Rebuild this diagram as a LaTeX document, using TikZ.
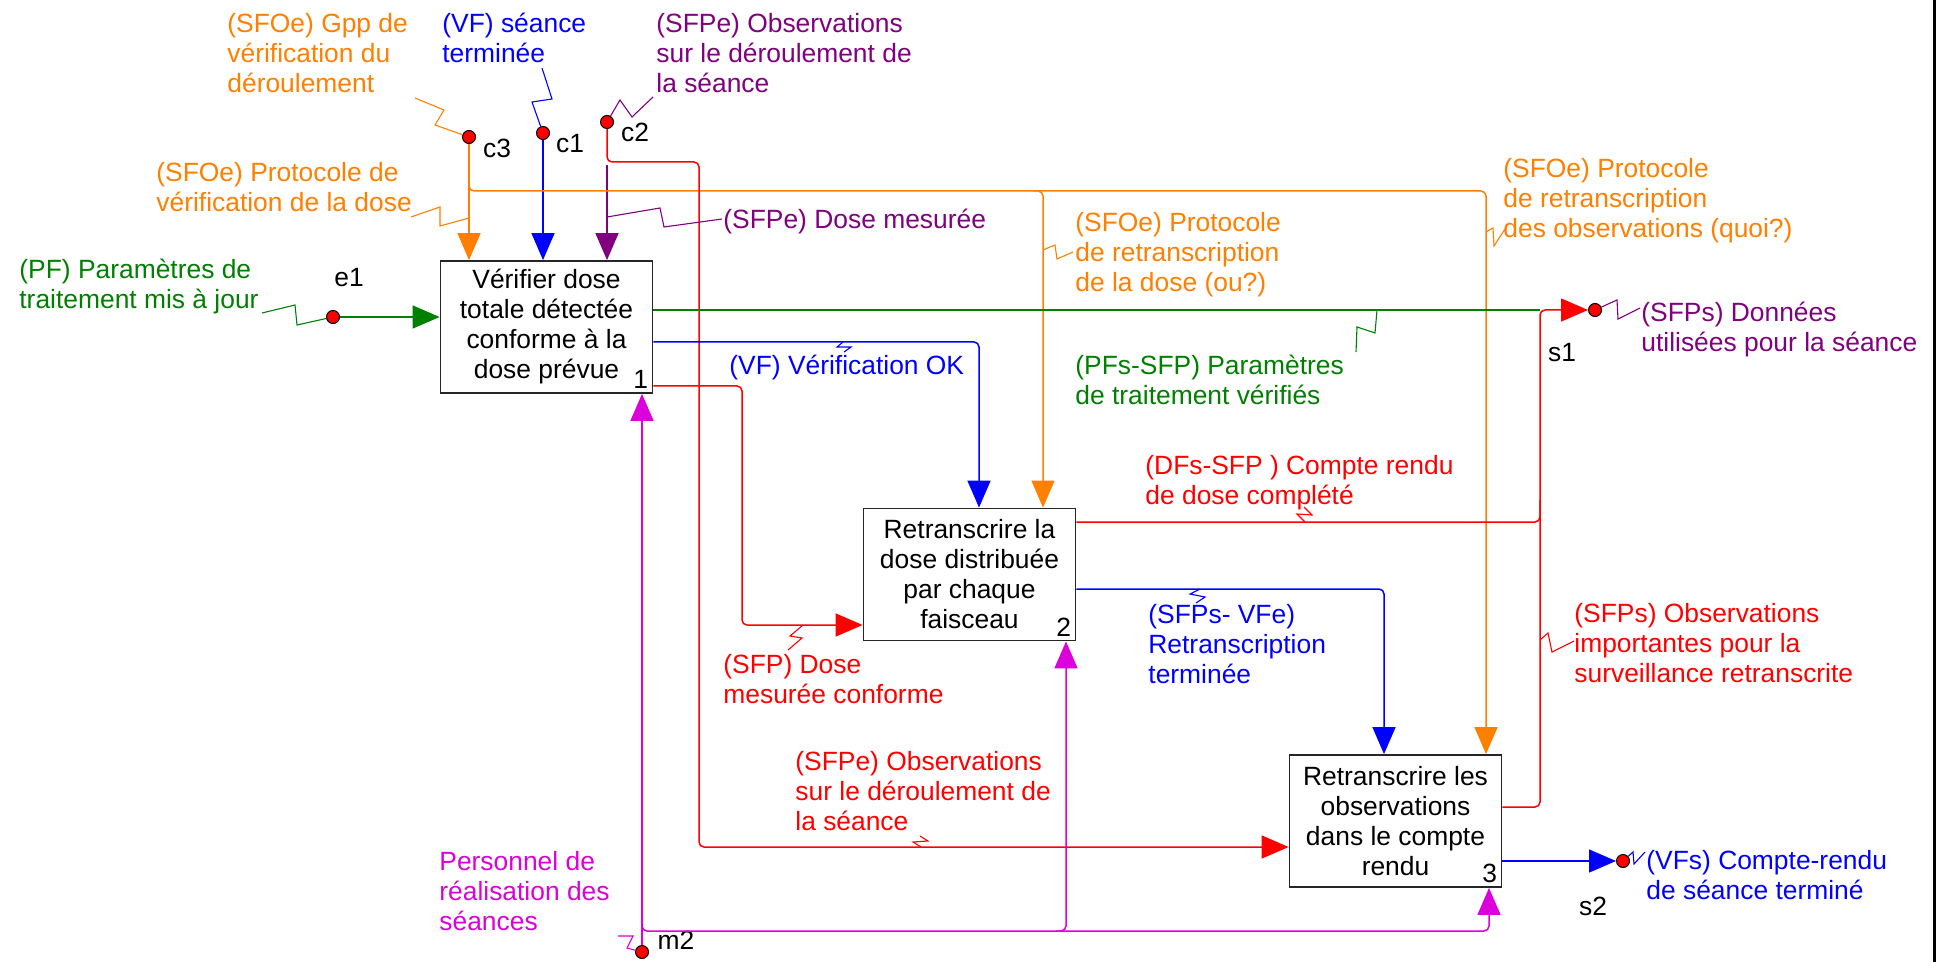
\documentclass[tikz,border=0pt]{standalone}
\usepackage{fontspec}
\setmainfont{Liberation Sans}
\usetikzlibrary{arrows.meta}
\definecolor{idorange}{RGB}{255,128,0}
\definecolor{idblue}{RGB}{0,0,255}
\definecolor{idpurple}{RGB}{128,0,128}
\definecolor{idgreen}{RGB}{0,128,0}
\definecolor{idred}{RGB}{255,0,0}
\definecolor{idmag}{RGB}{220,0,220}
\begin{document}
\begin{tikzpicture}[x=0.5pt, y=-0.5pt,
    every node/.style={font=\fontsize{13.2}{15}\selectfont},
    activity/.style={draw=black!85, line width=0.9pt, minimum width=106pt,
      minimum height=66pt, align=center, inner sep=0pt},
    port/.style={circle, fill=red, draw=black, line width=0.5pt, inner sep=0pt, minimum size=6.5pt},
    lbl/.style={anchor=north west, inner sep=0pt, align=left},
    flow/.style={line width=0.75pt, rounded corners=2.5pt},
    arr/.style={flow, -{Triangle[length=13.5pt, width=11.5pt]}},
    squig/.style={line width=0.55pt}]
  \fill[white] (0,0) rectangle (1937,962);
  \useasboundingbox (0,0) rectangle (1937,962);
  \draw[line width=1.25pt] (1934.5,0) -- (1934.5,962);
  % Activities
  \node[activity] (B1) at (546.5,327) {Vérifier dose\\totale détectée\\conforme à la\\dose prévue};
  \node[activity] (B2) at (969.5,574.5) {Retranscrire la\\dose distribuée\\par chaque\\faisceau};
  \node[activity] (B3) at (1395.5,821) {Retranscrire les\\observations\\dans le compte\\rendu};
  \node[anchor=south east, inner sep=0pt] (n1) at ([shift={(-5,-5)}]B1.south east) {1};
  \node[anchor=south east, inner sep=0pt] (n2) at ([shift={(-5,-5)}]B2.south east) {2};
  \node[anchor=south east, inner sep=0pt] (n3) at ([shift={(-5,-5)}]B3.south east) {3};
  % Boundary ports
  \node[port] (e1) at (333,317) {};
  \node[port] (c3) at (469,137) {};
  \node[port] (c1) at (543,133) {};
  \node[port] (c2) at (607,122) {};
  \node[port] (s1) at (1595,310) {};
  \node[port] (s2) at (1623,861) {};
  \node[port] (m2) at (642,952) {};
  \node at (349,278) {e1};
  \node at (497,148) {c3};
  \node at (570,144) {c1};
  \node at (635,132) {c2};
  \node at (1562,353) {s1};
  \node at (1593,906) {s2};
  \node at (676,940) {m2};
  % Bend points
  \coordinate (jo) at (1043,191);
  \coordinate (ko) at (1486,191);
  \coordinate (jr) at (1540,310);
  % Controls
  \draw[arr, idorange] (c3) -- (c3 |- B1.north);
  \draw[arr, idblue] (c1) -- (c1 |- B1.north);
  \draw[arr, idpurple] (c2 |- 0,165) -- (c2 |- B1.north);
  \draw[arr, idorange] (c3 |- 0,178) |- (ko) -- (ko |- B3.north);
  \draw[arr, idorange] (1033,191) -| (jo |- B2.north);
  \draw[arr, idred] (c2) |- (699,162) |- (B3.west |- 0,847);
  % Inputs and outputs
  \draw[arr, idgreen] (e1) -- (e1 -| B1.west);
  \draw[flow, idgreen] (B1.east |- 0,310) -- (jr);
  \draw[arr, idblue] (B1.east |- 0,342) -| (B2.north -| 979,0);
  \draw[arr, idred] (B1.east |- 0,386) -| (742,625) -- (B2.west |- 0,625);
  \draw[arr, idblue] (B2.east |- 0,589) -| (B3.north -| 1384,0);
  \draw[flow, idred] (B2.east |- 0,522) -| (1540,500);
  \draw[arr, idred] (B3.east |- 0,807) -| (jr) -- (s1);
  \draw[arr, idblue] (B3.east |- 0,861) -- (s2);
  % Mechanisms
  \draw[arr, idmag] (m2) -- (m2 |- B1.south);
  \draw[arr, idmag] (m2 |- 0,920) |- (1489,931) -- (B3.south -| 1489,0);
  \draw[arr, idmag] (1056,931) -| (B2.south -| 1066,0);
  % Labels
  \node[lbl, idorange] (lblGpp) at (227,13) {(SFOe) Gpp de\\vérification du\\déroulement};
  \node[lbl, idblue] (lblSeance) at (442,13) {(VF) séance\\terminée};
  \node[lbl, idpurple] (lblObsC2) at (656,13) {(SFPe) Observations\\sur le déroulement de\\la séance};
  \node[lbl, idorange] (lblProtoVerif) at (156,162) {(SFOe) Protocole de\\vérification de la dose};
  \node[lbl, idgreen] (lblParam) at (19,259) {(PF) Paramètres de\\traitement mis à jour};
  \node[lbl, idpurple] (lblDoseMes) at (723,209) {(SFPe) Dose mesurée};
  \node[lbl, idorange] (lblProtoDose) at (1075,212) {(SFOe) Protocole\\de retranscription\\de la dose (ou?)};
  \node[lbl, idorange] (lblProtoObs) at (1503,158) {(SFOe) Protocole\\de retranscription\\des observations (quoi?)};
  \node[lbl, idblue] (lblVerifOK) at (729,355) {(VF) Vérification OK};
  \node[lbl, idgreen] (lblParamVerif) at (1075,355) {(PFs-SFP) Paramètres\\de traitement vérifiés};
  \node[lbl, idpurple] (lblDonnees) at (1641,302) {(SFPs) Données\\utilisées pour la séance};
  \node[lbl, idred] (lblCompteDose) at (1145,455) {(DFs-SFP ) Compte rendu\\de dose complété};
  \node[lbl, idred] (lblDoseConf) at (723,654) {(SFP) Dose\\mesurée conforme};
  \node[lbl, idblue] (lblRetrans) at (1148,604) {(SFPs- VFe)\\Retranscription\\terminée};
  \node[lbl, idred] (lblObsImp) at (1574,603) {(SFPs) Observations\\importantes pour la\\surveillance retranscrite};
  \node[lbl, idred] (lblObsSeance) at (795,751) {(SFPe) Observations\\sur le déroulement de\\la séance};
  \node[lbl, idmag] (lblPersonnel) at (439,851) {Personnel de\\réalisation des\\séances};
  \node[lbl, idblue] (lblCompteRendu) at (1646,850) {(VFs) Compte-rendu\\de séance terminé};
  % Squiggles from labels to arrows
  \draw[squig, idorange] (c3) -- (435,125) -- (444,110) -- (415,98);
  \draw[squig, idblue] (c1) -- (532,102) -- (552,99) -- (542,68);
  \draw[squig, idpurple] (c2) -- (620,100) -- (632,117) -- (653,97);
  \draw[squig, idorange] (469,218) -- (440,226) -- (440,207) -- (411,217);
  \draw[squig, idgreen] (e1) -- (297,325) -- (295,305) -- (262,313);
  \draw[squig, idpurple] (607,217) -- (660,208) -- (664,227) -- (722,219);
  \draw[squig, idorange] (1043,250) -- (1055,245) -- (1057,259) -- (1073,252);
  \draw[squig, idorange] (1486,232) -- (1493,228) -- (1494,246) -- (1505,229);
  \draw[squig, idblue] (843,342) -- (837,347) -- (851,347) -- (844,352);
  \draw[squig, idgreen] (1377,310) -- (1375,333) -- (1357,327) -- (1356,352);
  \draw[squig, idpurple] (s1) -- (1617,300) -- (1618,319) -- (1640,308);
  \draw[squig, idred] (1305,522) -- (1297,514) -- (1312,515) -- (1304,507);
  \draw[squig, idred] (803,625) -- (790,636) -- (802,638) -- (788,650);
  \draw[squig, idblue] (1200,589) -- (1190,594) -- (1205,597) -- (1196,603);
  \draw[squig, idred] (1540,640) -- (1548,633) -- (1552,652) -- (1574,641);
  \draw[squig, idred] (921,847) -- (913,842) -- (928,841) -- (920,836);
  \draw[squig, idmag] (m2) -- (627,948) -- (633,936) -- (618,936);
  \draw[squig, idblue] (s2) -- (1633,852) -- (1634,864) -- (1645,852);
\end{tikzpicture}
\end{document}
